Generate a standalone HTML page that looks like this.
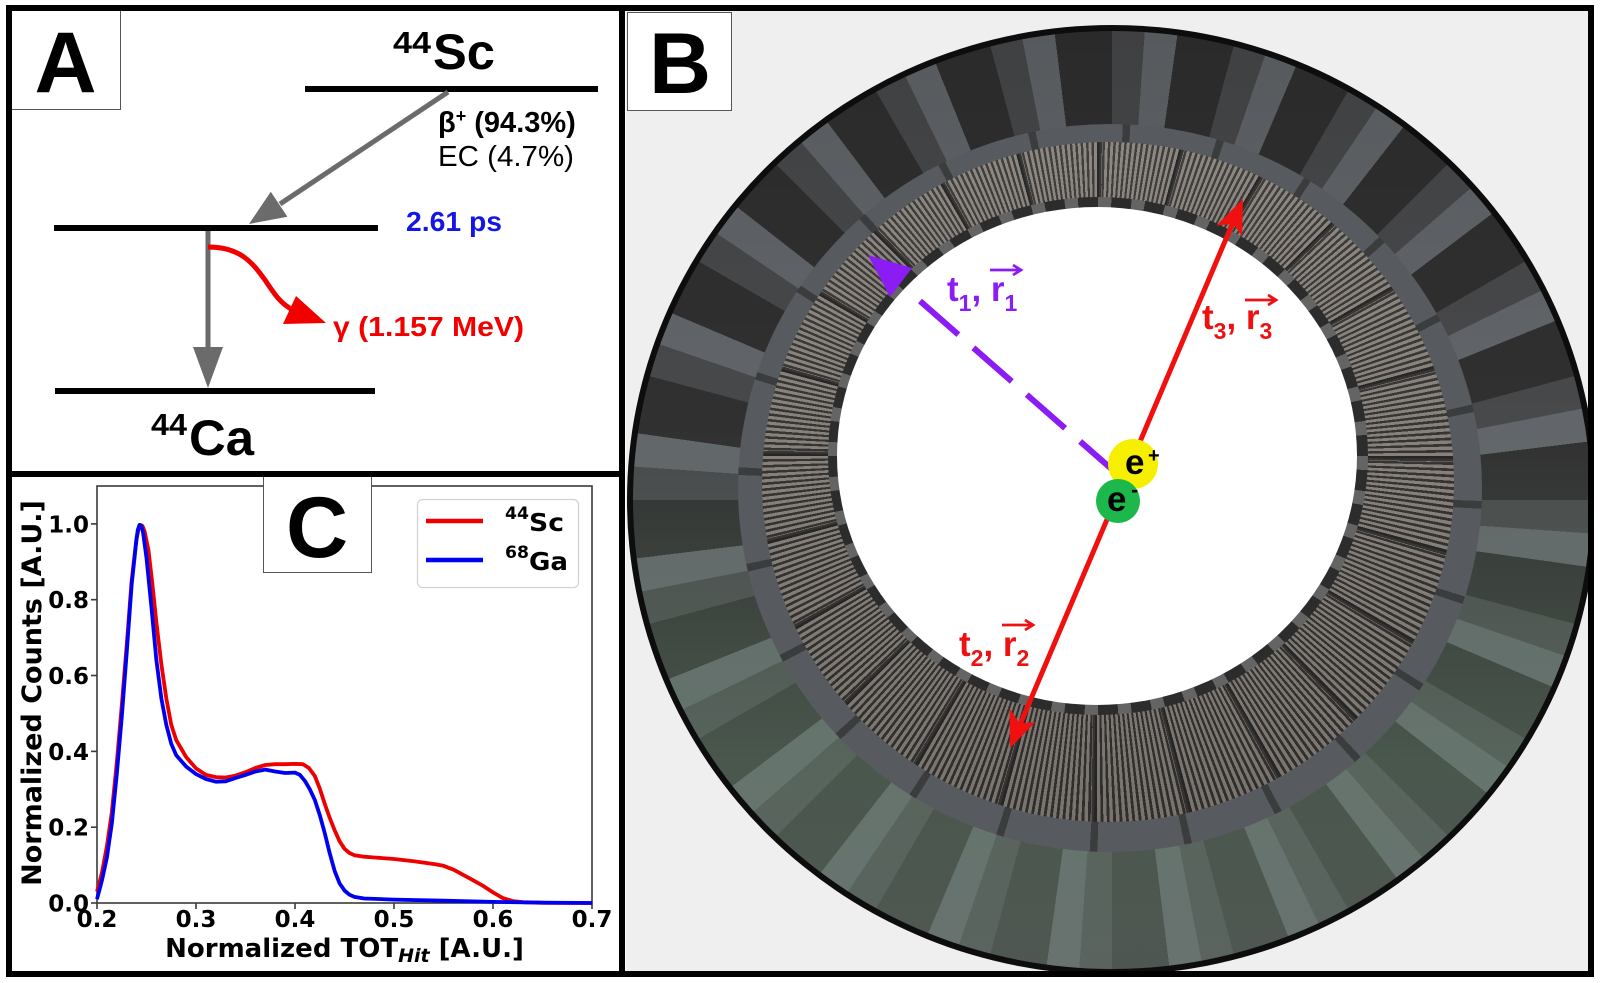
<!DOCTYPE html>
<html><head><meta charset="utf-8"><style>
html,body{margin:0;padding:0;background:#fff;}
body{width:1600px;height:983px;position:relative;overflow:hidden;font-family:"Liberation Sans",sans-serif;}
#pb{position:absolute;left:626px;top:11px;width:962px;height:961px;overflow:hidden;background:#efefef;}
.el{position:absolute;border-radius:50%;box-sizing:border-box;}
#e0{left:1px;top:14px;width:970px;height:950px;border:6px solid #0d0d0d;
background:
linear-gradient(to bottom, rgba(0,0,0,0.12) 0%, rgba(0,0,0,0) 42%, rgba(105,135,112,0.45) 78%, rgba(110,125,115,0.5) 100%),
repeating-conic-gradient(from 4deg, #62666a 0deg 4deg, #303030 4deg 11deg, #48494b 11deg 15deg);}
#e1{left:112px;top:113px;width:744px;height:728px;
background:repeating-conic-gradient(from 2deg, #3a3c3e 0deg 1.2deg, #575b5f 1.2deg 15deg);}
#e2{left:136px;top:131px;width:692px;height:680px;
background:
repeating-conic-gradient(from 0deg at 335px 314px, rgba(35,35,35,0.8) 0deg 0.9deg, rgba(0,0,0,0) 0.9deg 15deg),
linear-gradient(to bottom, rgba(255,255,255,0.06) 0%, rgba(0,0,0,0) 50%, rgba(0,0,0,0.1) 100%),
repeating-conic-gradient(from 0deg at 335px 314px, #35322f 0deg 0.45deg, #85807a 0.45deg 1deg);}
#e3{left:202px;top:186px;width:540px;height:518px;
background:repeating-conic-gradient(from 0deg, #646464 0deg 3deg, #2c2c2c 3deg 7.5deg);}
#e4{left:211px;top:196px;width:520px;height:498px;background:#fff;}
svg{position:absolute;left:0;top:0;}
</style></head><body>
<div id="pb">
  <div class="el" id="e0"></div>
  <div class="el" id="e1"></div>
  <div class="el" id="e2"></div>
  <div class="el" id="e3"></div>
  <div class="el" id="e4"></div>
</div>
<svg width="1600" height="983" viewBox="0 0 1600 983" xmlns="http://www.w3.org/2000/svg">
  <!-- ===== Panel B overlays ===== -->
  <line x1="920" y1="301" x2="1115" y2="472" stroke="#8c1cf4" stroke-width="6" stroke-dasharray="51 20"/>
  <polygon points="868,255 912,268 890,297" fill="#8c1cf4"/>
  <line x1="1234" y1="220" x2="1019" y2="727" stroke="#f01010" stroke-width="5"/>
  <polygon points="1243,199 1242.1,236.6 1233.6,223.8 1216.3,225.6" fill="#f01010"/>
  <polygon points="1010,748 1035.4,722.3 1019.4,723.2 1009.6,708.6" fill="#f01010"/>
  <circle cx="1133" cy="464" r="25" fill="#f6f000"/>
  <circle cx="1118" cy="501" r="22" fill="#1cb84c"/>
  <text x="1125" y="474" font-family="Liberation Sans, sans-serif" font-weight="bold" font-size="35" fill="#000">e</text>
  <text x="1148" y="462" font-family="Liberation Sans, sans-serif" font-weight="bold" font-size="20" fill="#000">+</text>
  <text x="1107" y="511" font-family="Liberation Sans, sans-serif" font-weight="bold" font-size="35" fill="#000">e</text>
  <text x="1131" y="497" font-family="Liberation Sans, sans-serif" font-weight="bold" font-size="22" fill="#000">-</text>
  <g font-family="Liberation Sans, sans-serif" font-weight="bold">
    <text x="947" y="301" font-size="35" fill="#8c1cf4">t<tspan dy="10" font-size="23">1</tspan><tspan dy="-10">, r</tspan><tspan dy="10" font-size="23">1</tspan></text>
    <text x="1202" y="329" font-size="35" fill="#ee1111">t<tspan dy="10" font-size="23">3</tspan><tspan dy="-10">, r</tspan><tspan dy="10" font-size="23">3</tspan></text>
    <text x="959" y="656" font-size="35" fill="#ee1111">t<tspan dy="10" font-size="23">2</tspan><tspan dy="-10">, r</tspan><tspan dy="10" font-size="23">2</tspan></text>
  </g>
  <g fill="none" stroke-width="2.8">
    <line x1="990" y1="270" x2="1021" y2="270" stroke="#8c1cf4"/>
    <polyline points="1013,265 1021,270 1013,275" stroke="#8c1cf4"/>
    <line x1="1245" y1="300" x2="1276" y2="300" stroke="#ee1111"/>
    <polyline points="1268,295 1276,300 1268,305" stroke="#ee1111"/>
    <line x1="1002" y1="625" x2="1033" y2="625" stroke="#ee1111"/>
    <polyline points="1025,620 1033,625 1025,630" stroke="#ee1111"/>
  </g>

  <!-- ===== Panel A ===== -->
  <g stroke="#000" stroke-width="6">
    <line x1="305" y1="89" x2="598" y2="89"/>
    <line x1="54" y1="228" x2="378" y2="228"/>
    <line x1="55" y1="391" x2="375" y2="391"/>
  </g>
  <line x1="448" y1="92" x2="280" y2="204" stroke="#6b6b6b" stroke-width="5"/>
  <polygon points="249,224 287.4,216.7 270.8,191.7" fill="#6b6b6b"/>
  <line x1="208" y1="231" x2="208" y2="350" stroke="#6b6b6b" stroke-width="5"/>
  <polygon points="208,388 193,347 223,347" fill="#6b6b6b"/>
  <path d="M 208 247 C 240 247, 252 262, 265 280 C 275 295, 281 304, 293 310" fill="none" stroke="#f20000" stroke-width="5"/>
  <polygon points="326,323 296,296 283,324" fill="#f20000"/>
  <g font-family="Liberation Sans, sans-serif">
    <text x="393" y="53" font-weight="bold" font-size="31" textLength="38" lengthAdjust="spacingAndGlyphs">44</text>
    <text x="433" y="69" font-weight="bold" font-size="50" textLength="62" lengthAdjust="spacingAndGlyphs">Sc</text>
    <text x="151" y="435" font-weight="bold" font-size="31" textLength="36" lengthAdjust="spacingAndGlyphs">44</text>
    <text x="189" y="455" font-weight="bold" font-size="50" textLength="65" lengthAdjust="spacingAndGlyphs">Ca</text>
    <text x="438" y="132" font-weight="bold" font-size="29">β<tspan dy="-10" font-size="18">+</tspan><tspan dy="10"> (94.3%)</tspan></text>
    <text x="438" y="166" font-size="29" textLength="136" lengthAdjust="spacingAndGlyphs">EC (4.7%)</text>
    <text x="406" y="231" font-weight="bold" font-size="28" fill="#1515e6" textLength="96" lengthAdjust="spacingAndGlyphs">2.61 ps</text>
    <text x="333" y="336" font-weight="bold" font-size="28" fill="#f20000" textLength="191" lengthAdjust="spacingAndGlyphs">γ (1.157 MeV)</text>
  </g>

  <!-- ===== Panel C ===== -->
  <rect x="97" y="486" width="495" height="417" fill="none" stroke="#3a3a3a" stroke-width="1.6"/>
  <g stroke="#3a3a3a" stroke-width="1.6">
    <line x1="97" y1="903" x2="97" y2="909"/><line x1="196" y1="903" x2="196" y2="909"/>
    <line x1="295" y1="903" x2="295" y2="909"/><line x1="394" y1="903" x2="394" y2="909"/>
    <line x1="493" y1="903" x2="493" y2="909"/><line x1="592" y1="903" x2="592" y2="909"/>
    <line x1="91" y1="903" x2="97" y2="903"/><line x1="91" y1="827.2" x2="97" y2="827.2"/>
    <line x1="91" y1="751.4" x2="97" y2="751.4"/><line x1="91" y1="675.5" x2="97" y2="675.5"/>
    <line x1="91" y1="599.7" x2="97" y2="599.7"/><line x1="91" y1="523.9" x2="97" y2="523.9"/>
  </g>
  <polyline fill="none" stroke="#ee0000" stroke-width="3.8" stroke-linejoin="round" points="97,891.6 101.95,872.7 106.9,846.1 111.85,812 116.8,762.7 121.75,705.9 126.7,645.2 131.65,580.8 134.5,556 136.6,539 138.5,529 140.5,525 142.5,526 144.52,531 148.48,550.4 152.44,584.6 156.4,622.5 161.35,664.2 166.3,698.3 171.25,724.8 176.2,740 186.1,757 196,768.4 205.9,774.9 215.8,777.1 225.7,777.5 235.6,775.6 245.5,772.2 255.4,768 265.3,765 275.2,764.2 285.1,764.2 295,763.9 302.9,764.2 308.9,768 314.8,776 319.75,788.5 324.7,803.7 329.65,817.7 334.6,830.2 339.55,841.2 344.5,848.8 349.45,853 354.4,855.2 364.3,856.7 374.2,857.5 394,859 413.8,861.3 433.6,864 443.5,865.8 453.4,869.6 463.3,874.9 473.2,880.3 483.1,885.9 493,892.4 502.9,898.1 512.8,901.1 522.7,902.2 542.5,902.8 592,903"/>
  <polyline fill="none" stroke="#0000f0" stroke-width="3.8" stroke-linejoin="round" points="97,899.2 101.95,880.3 106.9,857.5 111.85,823.4 116.8,774.1 121.75,717.2 126.7,652.8 131.65,584.6 134.5,558 136.3,540 137.8,530 139.5,525 141.2,526 143,532 146.5,558 151.45,607.3 156.4,660.4 161.35,698.3 166.3,724.8 171.25,743.8 176.2,755.2 186.1,766.5 196,774.1 205.9,779 215.8,781.7 225.7,781.3 235.6,777.9 245.5,774.9 255.4,771.5 265.3,769.6 275.2,771.5 285.1,773 295,772.6 299.95,774.9 304.9,780.9 309.85,789.3 314.8,799.9 319.75,815 324.7,832.9 329.65,853 334.6,870.8 339.55,883.3 344.5,890.5 349.45,894.7 354.4,896.9 364.3,898.5 394,899.6 443.5,900.7 493,901.9 542.5,902.6 592,903"/>
  <g font-family="DejaVu Sans, sans-serif" font-weight="bold" font-size="23" fill="#000">
    <g text-anchor="middle">
      <text x="97" y="927">0.2</text><text x="196" y="927">0.3</text><text x="295" y="927">0.4</text>
      <text x="394" y="927">0.5</text><text x="493" y="927">0.6</text><text x="592" y="927">0.7</text>
    </g>
    <g text-anchor="end">
      <text x="89" y="911.5">0.0</text><text x="89" y="835.7">0.2</text><text x="89" y="759.9">0.4</text>
      <text x="89" y="684">0.6</text><text x="89" y="608.2">0.8</text><text x="89" y="532.4">1.0</text>
    </g>
    <text x="344.5" y="957" font-size="26" text-anchor="middle">Normalized TOT<tspan font-style="italic" font-size="19" dy="5">Hit</tspan><tspan dy="-5"> [A.U.]</tspan></text>
    <text transform="translate(41,693) rotate(-90)" font-size="27" text-anchor="middle">Normalized Counts [A.U.]</text>
  </g>
  <rect x="417.5" y="499.5" width="161" height="88" rx="5" fill="#fff" stroke="#d2d2d2" stroke-width="1.2"/>
  <line x1="426" y1="521" x2="483" y2="521" stroke="#ee0000" stroke-width="4.5"/>
  <line x1="426" y1="560" x2="483" y2="560" stroke="#0000f0" stroke-width="4.5"/>
  <g font-family="DejaVu Sans, sans-serif" font-weight="bold" fill="#000">
    <text x="505" y="519" font-size="17" textLength="24" lengthAdjust="spacingAndGlyphs">44</text><text x="529" y="531" font-size="25" textLength="35" lengthAdjust="spacingAndGlyphs">Sc</text>
    <text x="505" y="558" font-size="17" textLength="24" lengthAdjust="spacingAndGlyphs">68</text><text x="529" y="570" font-size="25" textLength="39" lengthAdjust="spacingAndGlyphs">Ga</text>
  </g>

  <g font-family="Liberation Sans, sans-serif" font-weight="bold" font-size="86" text-anchor="middle" fill="#000">
    <rect x="11.5" y="10.5" width="109" height="99" fill="#fff" stroke="#555" stroke-width="1"/>
    <text x="65.5" y="92">A</text>
    <rect x="627.5" y="12.5" width="104" height="98" fill="#fff" stroke="#555" stroke-width="1"/>
    <text x="680" y="93">B</text>
    <rect x="263.5" y="474.5" width="108" height="98" fill="#fff" stroke="#555" stroke-width="1"/>
    <text x="317" y="557">C</text>
  </g>

  <rect x="9" y="8" width="1582" height="966" fill="none" stroke="#000" stroke-width="6"/>
  <line x1="622" y1="8" x2="622" y2="974" stroke="#000" stroke-width="6"/>
  <line x1="9" y1="474" x2="622" y2="474" stroke="#000" stroke-width="6"/>
</svg>
</body></html>
